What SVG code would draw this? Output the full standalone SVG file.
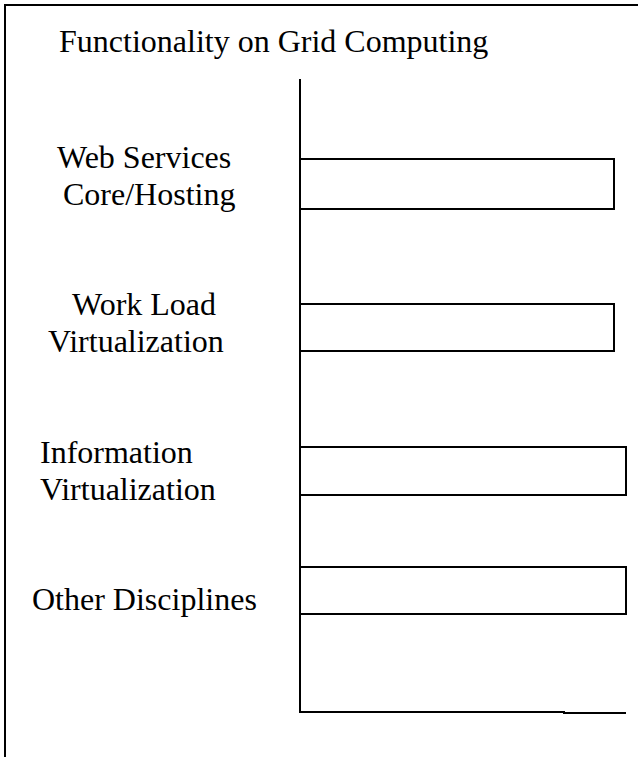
<svg xmlns="http://www.w3.org/2000/svg" width="638" height="757" viewBox="0 0 638 757">
<style>
text{font-family:'Liberation Serif','Tinos','DejaVu Serif','Noto Serif',serif;font-size:32px;fill:#000}
.ln{stroke:#000;stroke-width:2;fill:none}
.bx{stroke:#000;stroke-width:2;fill:#fff}
</style>
<rect width="638" height="757" fill="#fff"/>
<g id="frame">
<path class="ln" d="M5,757 V5 H638"/>
</g>
<g id="title"><text x="59" y="52">Functionality on Grid Computing</text></g>
<g id="connectors">
<path class="ln" d="M300,79 V712 H564 V713 H626"/>
</g>
<g id="web-services">
<rect class="bx" x="300" y="159" width="314" height="50"/>
<text x="57" y="168">Web Services</text>
<text x="63" y="205">Core/Hosting</text>
</g>
<g id="work-load">
<rect class="bx" x="300" y="304" width="314" height="47"/>
<text x="72" y="315">Work Load</text>
<text x="48" y="352">Virtualization</text>
</g>
<g id="information">
<rect class="bx" x="300" y="447" width="326" height="48"/>
<text x="40" y="463">Information</text>
<text x="40" y="500">Virtualization</text>
</g>
<g id="other">
<rect class="bx" x="300" y="567" width="326" height="47"/>
<text x="32" y="610">Other Disciplines</text>
</g>
</svg>
